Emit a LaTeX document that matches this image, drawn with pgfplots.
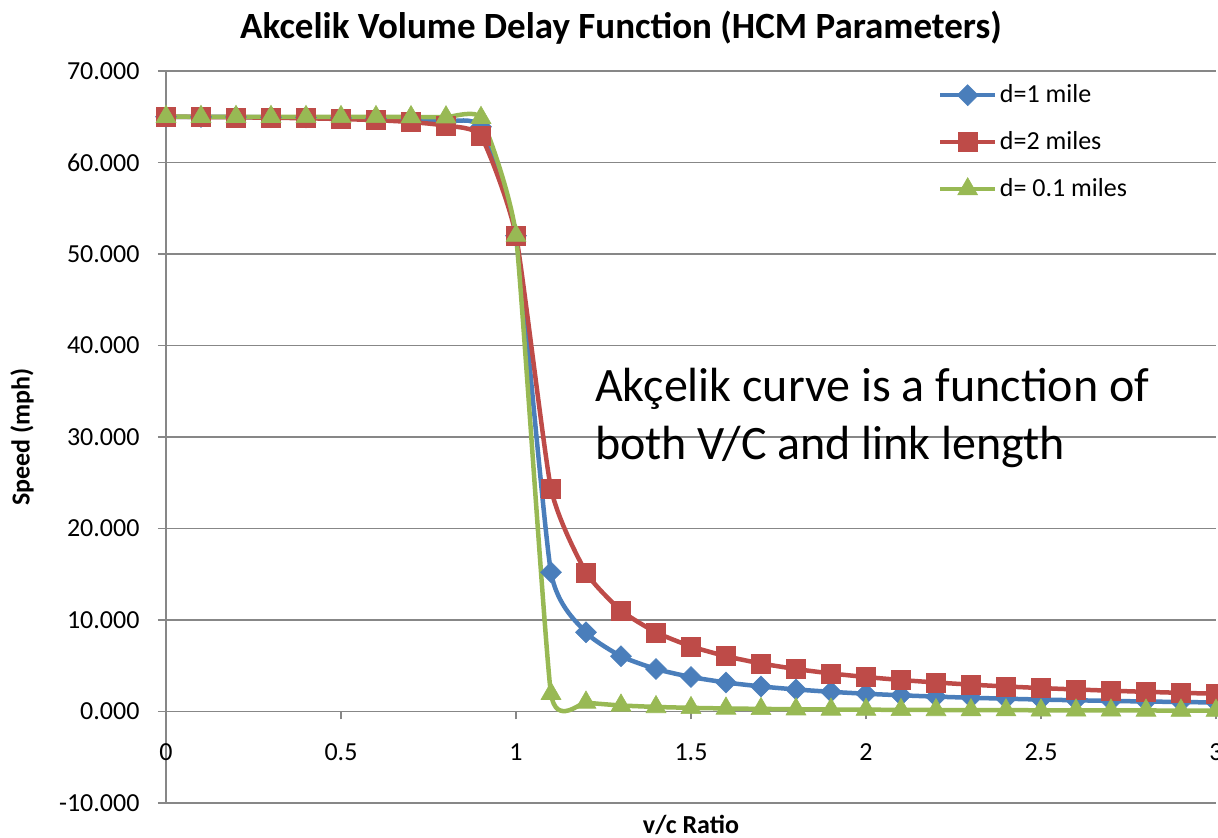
\documentclass[border=0pt]{standalone}
\usepackage{pgfplots}
\pgfplotsset{compat=1.18}
\usepackage{fontspec}
\setmainfont{Carlito}

\definecolor{serblue}{HTML}{4A7EBB}
\definecolor{serred}{HTML}{BE4B48}
\definecolor{sergreen}{HTML}{98B954}
\definecolor{gridgray}{HTML}{878787}

\begin{document}
\begin{tikzpicture}
\begin{axis}[
  at={(0,0)}, anchor=south west,
  scale only axis,
  width=1050bp, height=732bp,
  xmin=0, xmax=3, ymin=-10, ymax=70,
  clip=false,
  axis x line*=middle,
  axis y line*=left,
  hide obscured x ticks=false,
  hide obscured y ticks=false,
  axis line style={draw=gridgray, line width=1.6bp},
  xtick={0,0.5,1,1.5,2,2.5,3},
  xticklabels={0,0.5,1,1.5,2,2.5,3},
  ytick={-10,0,10,20,30,40,50,60,70},
  yticklabel={\pgfmathprintnumber[fixed,fixed zerofill,precision=3,assume math mode=true]{\tick}},
  tick align=outside,
  major tick length=8bp,
  tick style={draw=gridgray, line width=1.6bp},
  ymajorgrids,
  grid style={draw=gridgray, line width=1.6bp},
  tick label style={font=\fontsize{26bp}{31bp}\selectfont},
  xticklabel style={anchor=north, yshift=-21bp},
  yticklabel style={anchor=east, xshift=-15bp},
  legend cell align=left,
  legend style={
    at={(0.735,0.985)}, anchor=north west,
    draw=none, fill=none, inner sep=0pt,
    font=\fontsize{26bp}{31bp}\selectfont,
    nodes={inner xsep=2.5bp, inner ysep=0bp, text height=20bp, text depth=6bp},
    row sep=21bp,
  },
  legend image code/.code={
    \draw[mark repeat=2, mark phase=2] plot coordinates {(0bp,0bp) (27.5bp,0bp) (55bp,0bp)};
  },
  every axis plot/.append style={line width=4.5bp, smooth, tension=0.32},
]

% d = 1 mile
\addplot[color=serblue, mark=square*, mark size=7.4bp,
  mark options={solid, rotate=45, fill=serblue, draw=serblue, line width=0.6bp}]
  coordinates {
  (0,65.000)(0.1,64.986)(0.2,64.969)(0.3,64.946)(0.4,64.917)(0.5,64.875)
  (0.6,64.813)(0.7,64.710)(0.8,64.504)(0.9,63.899)(1.0,52.000)(1.1,15.219)
  (1.2,8.653)(1.3,6.042)(1.4,4.641)(1.5,3.767)(1.6,3.170)(1.7,2.736)
  (1.8,2.407)(1.9,2.148)(2.0,1.940)(2.1,1.769)(2.2,1.625)(2.3,1.503)
  (2.4,1.398)(2.5,1.306)(2.6,1.226)(2.7,1.156)(2.8,1.092)(2.9,1.036)(3.0,0.985)
  };
\addlegendentry{d=1 mile}

% d = 2 miles
\addplot[color=serred, mark=square*, mark size=9.5bp,
  mark options={solid, fill=serred, draw=serred, line width=0.6bp}]
  coordinates {
  (0,65.000)(0.1,64.972)(0.2,64.938)(0.3,64.893)(0.4,64.834)(0.5,64.751)
  (0.6,64.627)(0.7,64.423)(0.8,64.020)(0.9,62.868)(1.0,52.000)(1.1,24.379)
  (1.2,15.212)(1.3,11.033)(1.4,8.651)(1.5,7.114)(1.6,6.041)(1.7,5.249)
  (1.8,4.640)(1.9,4.158)(2.0,3.766)(2.1,3.442)(2.2,3.170)(2.3,2.937)
  (2.4,2.736)(2.5,2.561)(2.6,2.407)(2.7,2.270)(2.8,2.148)(2.9,2.039)(3.0,1.940)
  };
\addlegendentry{d=2 miles}

% d = 0.1 miles
\addplot[color=sergreen, tension=0.26, mark=triangle*, mark size=11.5bp,
  mark options={solid, fill=sergreen, draw=sergreen, line width=0.6bp}]
  coordinates {
  (0,65.000)(0.1,64.999)(0.2,64.997)(0.3,64.995)(0.4,64.992)(0.5,64.988)
  (0.6,64.981)(0.7,64.971)(0.8,64.950)(0.9,64.888)(1.0,52.000)(1.1,1.940)
  (1.2,0.985)(1.3,0.660)(1.4,0.496)(1.5,0.398)(1.6,0.332)(1.7,0.284)
  (1.8,0.249)(1.9,0.221)(2.0,0.199)(2.1,0.181)(2.2,0.166)(2.3,0.153)
  (2.4,0.143)(2.5,0.133)(2.6,0.125)(2.7,0.117)(2.8,0.111)(2.9,0.105)(3.0,0.100)
  };
\addlegendentry{d= 0.1 miles}
\end{axis}

% titles and annotation
\node[anchor=base, font=\fontsize{37bp}{44bp}\selectfont\bfseries] at (455bp,764bp)
  {Akcelik Volume Delay Function (HCM Parameters)};
\node[anchor=base, font=\fontsize{26bp}{31bp}\selectfont\bfseries] at (525bp,-30bp) {v/c Ratio};
\node[rotate=90, font=\fontsize{26bp}{31bp}\selectfont\bfseries] at (-144bp,366bp) {Speed (mph)};
\node[anchor=base west, inner sep=0pt, font=\fontsize{48bp}{58bp}\selectfont] at (429bp,401bp)
  {Akçelik curve is a function of};
\node[anchor=base west, inner sep=0pt, font=\fontsize{48bp}{58bp}\selectfont] at (429bp,343bp)
  {both V/C and link length};

\pgfresetboundingbox
\path[use as bounding box] (-166bp,-35bp) rectangle (1052bp,803bp);
\end{tikzpicture}
\end{document}
